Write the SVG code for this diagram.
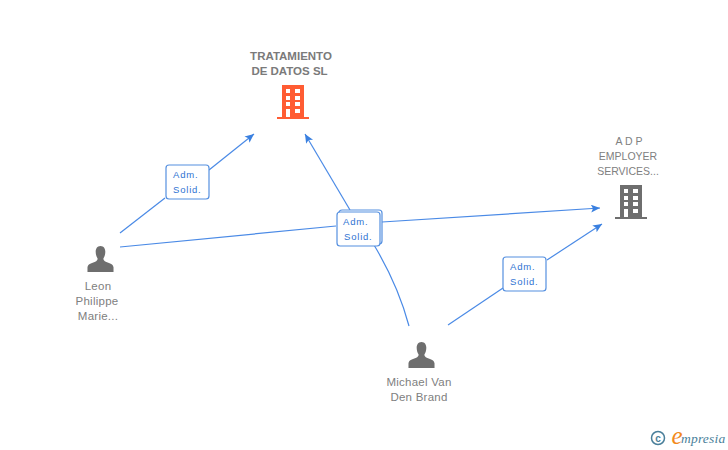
<svg xmlns="http://www.w3.org/2000/svg" width="728" height="450" viewBox="0 0 728 450">
<style>
text{font-family:"Liberation Sans",Arial,sans-serif}
.n{font-size:11.500px;letter-spacing:.25px;fill:#808080;text-anchor:middle}
.u{font-size:10.500px;fill:#808080;text-anchor:middle}
.t{font-size:11.500px;font-weight:bold;fill:#7a7a7a;text-anchor:middle}
.l{font-size:9.500px;fill:#2f73d2;letter-spacing:.8px}
.c{fill:none;stroke:#4a8ae6;stroke-width:1.2}
.b{fill:#fff;stroke:#5590e0;stroke-width:1.2}
.p{fill:#6e6e6e}
.s{font-family:"Liberation Serif",serif;font-style:italic}
</style>
<defs>
<marker id="a" markerWidth="10" markerHeight="10" refX="9" refY="4" orient="auto" markerUnits="userSpaceOnUse"><path d="M0 0L9 4L0 8L2 4Z" fill="#3a80e0"/></marker>
<symbol id="person" viewBox="0 0 28 28" overflow="visible"><path d="M14 1C10.500 1 9 4 9 7C9 10 10 12.500 11 14C11 15.500 10.500 16.500 8 17.500C4 19 1 19.500 .5 23V28H27.500V23C27 19.500 24 19 20 17.500C17.500 16.500 17 15.500 17 14C18 12.500 19 10 19 7C19 4 17.500 1 14 1Z"/></symbol>
<symbol id="bldg" viewBox="0 0 32 34" overflow="visible"><path fill-rule="evenodd" d="M5 0H27V32H32V34H0V32H5ZM9 4V8H13V4ZM18 4V8H23V4ZM9 11V15H13V11ZM18 11V15H23V11ZM9 17V21H13V17ZM18 17V21H23V17ZM9 24V32H13V24ZM18 24V28H23V24Z"/></symbol>
</defs>
<g id="connectors">
<path class="c" d="M120 233L165 198"/>
<path class="c" d="M209 170L254 134" marker-end="url(#a)"/>
<path class="c" d="M120 247L336 226"/>
<path class="c" d="M382 222L600 208" marker-end="url(#a)"/>
<path class="c" d="M409 326Q398 285 374 245"/>
<path class="c" d="M350 210L305 134" marker-end="url(#a)"/>
<path class="c" d="M448 325L503 288"/>
<path class="c" d="M547 260L602 224" marker-end="url(#a)"/>
</g>
<g id="node-tratamiento">
<text class="t" x="291" y="60">TRATAMIENTO</text><text class="t" x="289.500" y="75">DE DATOS SL</text>
<use href="#bldg" x="277" y="85" width="32" height="34" fill="#ff5c33"/>
</g>
<g id="node-adp">
<text class="u" x="629" y="145">A D P</text><text class="u" x="628" y="160">EMPLOYER</text><text class="u" x="628" y="175">SERVICES...</text>
<use href="#bldg" x="615" y="185" width="32" height="34" fill="#6e6e6e"/>
</g>
<g id="node-leon">
<use class="p" href="#person" x="87" y="245" width="27" height="27"/>
<text class="n" x="98" y="290">Leon</text><text class="n" x="97" y="305">Philippe</text><text class="n" x="98" y="320">Marie...</text>
</g>
<g id="node-michael">
<use class="p" href="#person" x="408" y="341" width="27" height="27"/>
<text class="n" x="419" y="386">Michael Van</text><text class="n" x="419" y="401">Den Brand</text>
</g>
<g id="label-1">
<rect class="b" x="166" y="165" width="43" height="34" rx="3"/>
<text class="l" x="173" y="178">Adm.</text><text class="l" x="173" y="193">Solid.</text>
</g>
<g id="label-2">
<rect class="b" x="339" y="210" width="43" height="34" rx="3"/>
<rect class="b" x="337" y="212" width="43" height="34" rx="3"/>
<text class="l" x="343" y="225">Adm.</text><text class="l" x="344" y="240">Solid.</text>
</g>
<g id="label-3">
<rect class="b" x="503" y="257" width="43" height="34" rx="3"/>
<text class="l" x="510" y="270">Adm.</text><text class="l" x="510" y="285">Solid.</text>
</g>
<g id="logo">
<circle cx="658" cy="438" r="6.500" fill="none" stroke="#4a7f9a" stroke-width="1.500"/>
<text x="658" y="441.500" font-size="10" font-weight="bold" fill="#4a7f9a" text-anchor="middle">c</text>
<text class="s" x="677" y="444" font-size="25" fill="#f28a1c" text-anchor="middle">e</text>
<text class="s" x="681" y="443" font-size="13.500" letter-spacing=".2" fill="#4a7f9a">mpresia</text>
</g>
</svg>
